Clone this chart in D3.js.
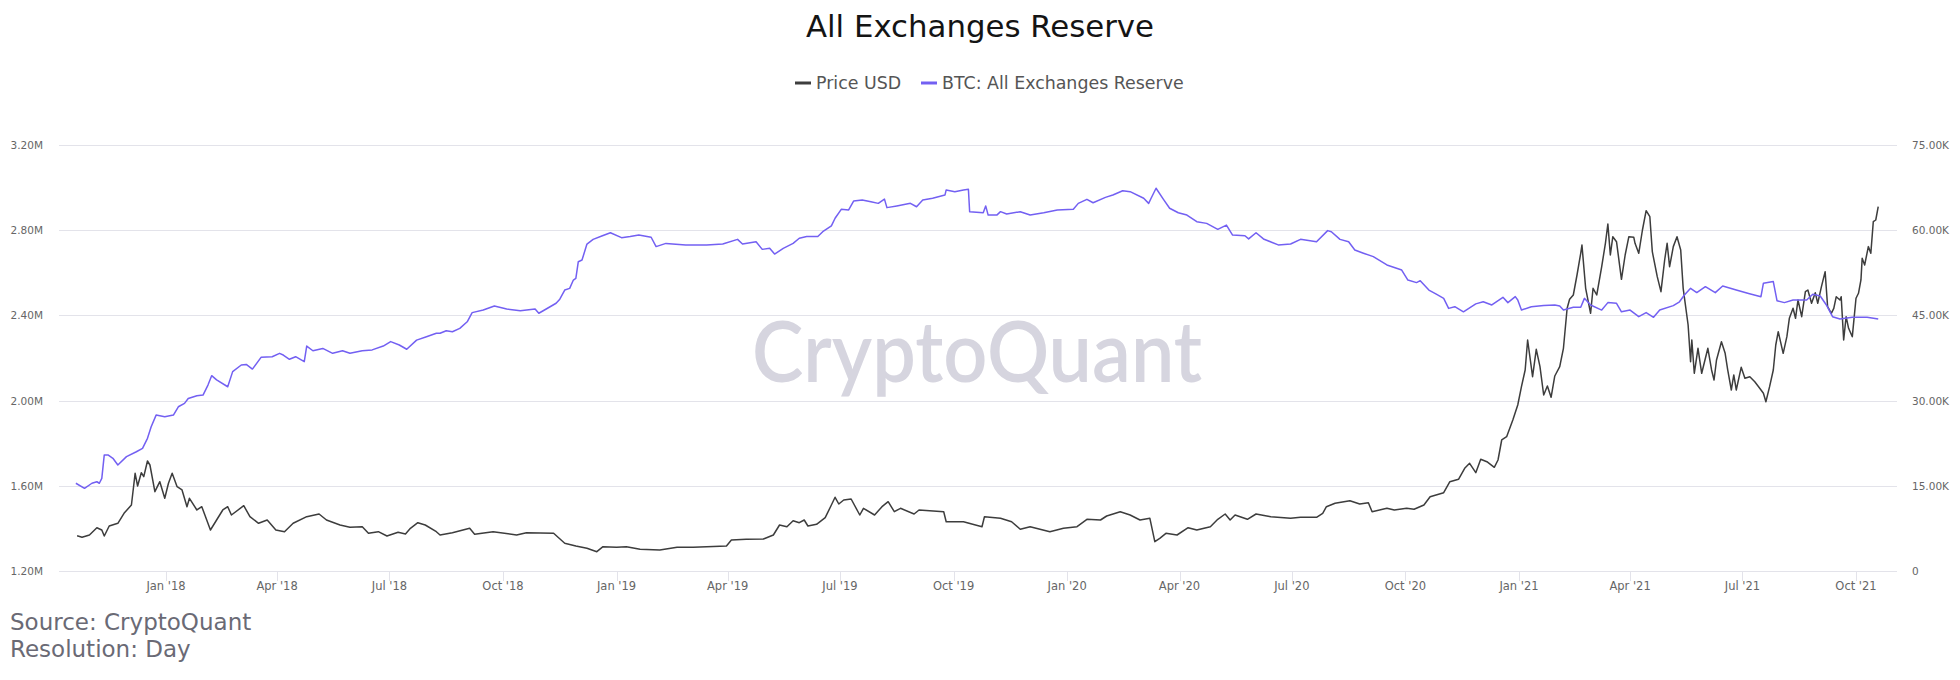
<!DOCTYPE html>
<html>
<head>
<meta charset="utf-8">
<script src="https://cdn.jsdelivr.net/npm/d3@7"></script>
<style>
  html, body { margin: 0; padding: 0; background: #fff; }
  svg { display: block; font-family: "DejaVu Sans", sans-serif; }
</style>
</head>
<body>
<div id="chartArea"></div>
<script>
// values
var priceDates = ['2017-10-21','2017-10-25','2017-10-31','2017-11-06','2017-11-10','2017-11-12','2017-11-16','2017-11-23','2017-11-28','2017-12-04',
  '2017-12-07','2017-12-09','2017-12-12','2017-12-14','2017-12-17','2017-12-19','2017-12-23','2017-12-27','2017-12-31','2018-01-03',
  '2018-01-06','2018-01-10','2018-01-14','2018-01-18','2018-01-20','2018-01-26','2018-01-30','2018-02-03','2018-02-06','2018-02-11',
  '2018-02-16','2018-02-20','2018-02-23','2018-03-05','2018-03-10','2018-03-17','2018-03-24','2018-03-31','2018-04-07','2018-04-14',
  '2018-04-25','2018-05-05','2018-05-11','2018-05-22','2018-05-30','2018-06-09','2018-06-14','2018-06-22','2018-06-29','2018-07-08',
  '2018-07-14','2018-07-18','2018-07-24','2018-07-30','2018-08-08','2018-08-11','2018-08-21','2018-09-04','2018-09-08','2018-09-23',
  '2018-10-12','2018-10-20','2018-11-11','2018-11-20','2018-11-29','2018-12-08','2018-12-16','2018-12-21','2019-01-01','2019-01-09',
  '2019-01-20','2019-02-05','2019-02-19','2019-03-04','2019-03-15','2019-03-31','2019-04-04','2019-04-16','2019-04-30','2019-05-08',
  '2019-05-13','2019-05-19','2019-05-24','2019-05-29','2019-06-02','2019-06-05','2019-06-12','2019-06-19','2019-06-24','2019-06-27',
  '2019-06-30','2019-07-04','2019-07-10','2019-07-17','2019-07-20','2019-07-29','2019-08-04','2019-08-09','2019-08-14','2019-08-19',
  '2019-08-30','2019-09-03','2019-09-23','2019-09-25','2019-10-09','2019-10-24','2019-10-26','2019-11-08','2019-11-17','2019-11-24',
  '2019-12-02','2019-12-18','2019-12-29','2020-01-09','2020-01-17','2020-01-28','2020-02-02','2020-02-13','2020-02-21','2020-02-29',
  '2020-03-08','2020-03-12','2020-03-16','2020-03-21','2020-03-30','2020-04-08','2020-04-15','2020-04-26','2020-05-02','2020-05-08',
  '2020-05-12','2020-05-16','2020-05-26','2020-06-02','2020-06-14','2020-06-30','2020-07-08','2020-07-21','2020-07-26','2020-07-29',
  '2020-08-05','2020-08-17','2020-08-25','2020-09-01','2020-09-04','2020-09-16','2020-09-22','2020-10-02','2020-10-08','2020-10-16',
  '2020-10-21','2020-11-01','2020-11-06','2020-11-13','2020-11-18','2020-11-22','2020-11-27','2020-12-01','2020-12-06','2020-12-12',
  '2020-12-15','2020-12-18','2020-12-22','2020-12-27','2020-12-31','2021-01-03','2021-01-06','2021-01-08','2021-01-12','2021-01-15',
  '2021-01-18','2021-01-21','2021-01-24','2021-01-27','2021-01-30','2021-02-03','2021-02-06','2021-02-09','2021-02-11','2021-02-14',
  '2021-02-17','2021-02-20','2021-02-21','2021-02-24','2021-02-28','2021-03-02','2021-03-05','2021-03-09','2021-03-12','2021-03-14',
  '2021-03-16','2021-03-18','2021-03-21','2021-03-25','2021-03-28','2021-03-31','2021-04-04','2021-04-05','2021-04-08','2021-04-11',
  '2021-04-14','2021-04-17','2021-04-19','2021-04-23','2021-04-26','2021-04-29','2021-05-01','2021-05-03','2021-05-06','2021-05-09',
  '2021-05-12','2021-05-14','2021-05-18','2021-05-20','2021-05-21','2021-05-23','2021-05-26','2021-05-29','2021-06-03','2021-06-06',
  '2021-06-08','2021-06-10','2021-06-14','2021-06-17','2021-06-19','2021-06-22','2021-06-24','2021-06-26','2021-06-30','2021-07-03',
  '2021-07-07','2021-07-11','2021-07-15','2021-07-18','2021-07-20','2021-07-23','2021-07-26','2021-07-28','2021-07-30','2021-08-03',
  '2021-08-06','2021-08-08','2021-08-11','2021-08-13','2021-08-15','2021-08-18','2021-08-21','2021-08-23','2021-08-26','2021-08-29',
  '2021-08-31','2021-09-03','2021-09-06','2021-09-08','2021-09-11','2021-09-13','2021-09-15','2021-09-18','2021-09-19','2021-09-21',
  '2021-09-23','2021-09-25','2021-09-28','2021-10-01','2021-10-03','2021-10-05','2021-10-06','2021-10-08','2021-10-11','2021-10-13',
  '2021-10-15','2021-10-17','2021-10-19'];
var priceUsd = [6215,5933,6338,7623,7218,6162,7923,8398,10159,11620,
  17201,14965,17306,16602,19367,18662,13962,15722,12800,15440,
  17201,14842,14261,11321,12800,10740,11321,8979,7218,8979,
  10740,11321,9859,11497,9560,8398,8979,7218,6919,8398,
  9560,10036,8979,8099,7694,7800,6637,6919,6162,6814,
  6514,7517,8504,8099,6919,6338,6744,7518,6461,6919,
  6338,6744,6637,4877,4402,3997,3398,4278,4173,4278,
  3820,3697,4173,4173,4278,4402,5458,5581,5634,6338,
  8099,7800,8856,8504,8979,7923,8222,9384,11620,12976,
  11796,12500,12676,9859,11039,9859,11321,12201,10440,11039,
  10036,10740,10440,8680,8680,7800,9560,9278,8680,7342,
  7800,6919,7518,7800,9102,8979,9683,10440,9859,8979,
  9278,5159,5757,6637,6338,7623,7218,7800,9102,10036,
  8979,9859,9102,10036,9560,9278,9454,9454,10159,11321,
  11920,12377,11796,12025,10440,11039,10740,11039,10863,11620,
  13081,13786,15722,16145,18082,18962,17306,19666,19244,18258,
  19543,23064,23645,26585,29226,32449,35388,40670,34211,39034,
  35969,30987,32571,30583,34332,35969,39209,46251,47836,48593,
  52114,55934,57396,49773,45371,49773,48593,53575,57695,61093,
  55635,58858,57977,51357,55635,58858,58752,57695,55934,60036,
  63434,62377,56215,51815,49174,54755,57695,53575,57108,58858,
  56516,49773,43311,36851,40670,34807,39209,34807,39209,35388,
  33627,37149,40371,38328,35512,31867,34508,31867,35863,33927,
  34211,33328,32166,31286,29807,32449,35388,39789,42131,38328,
  41251,44491,46251,44491,47712,44772,49174,49473,47131,48998,
  47131,50054,52695,46533,45371,46251,48294,47712,48294,40670,
  44772,42730,41251,48012,48893,51235,55054,53874,57108,55934,
  61497,61797,64140];

var reserveDates = ['2017-10-20','2017-10-27','2017-11-02','2017-11-06','2017-11-08','2017-11-10','2017-11-12','2017-11-15','2017-11-19','2017-11-23',
  '2017-11-30','2017-12-08','2017-12-13','2017-12-17','2017-12-20','2017-12-24','2017-12-31','2018-01-07','2018-01-11','2018-01-16',
  '2018-01-19','2018-01-26','2018-01-31','2018-02-04','2018-02-07','2018-02-11','2018-02-20','2018-02-24','2018-03-03','2018-03-07',
  '2018-03-12','2018-03-19','2018-03-28','2018-04-03','2018-04-06','2018-04-11','2018-04-16','2018-04-23','2018-04-25','2018-04-30',
  '2018-05-08','2018-05-16','2018-05-24','2018-05-30','2018-06-09','2018-06-17','2018-06-26','2018-07-02','2018-07-09','2018-07-15',
  '2018-07-23','2018-07-31','2018-08-08','2018-08-11','2018-08-16','2018-08-21','2018-08-27','2018-09-02','2018-09-06','2018-09-15',
  '2018-09-24','2018-10-04','2018-10-15','2018-10-27','2018-10-30','2018-11-05','2018-11-13','2018-11-16','2018-11-20','2018-11-24',
  '2018-11-27','2018-11-29','2018-12-01','2018-12-04','2018-12-08','2018-12-13','2018-12-20','2018-12-27','2019-01-05','2019-01-12',
  '2019-01-19','2019-01-29','2019-02-02','2019-02-10','2019-02-26','2019-03-15','2019-03-28','2019-04-09','2019-04-13','2019-04-24',
  '2019-04-29','2019-05-05','2019-05-09','2019-05-16','2019-05-24','2019-05-29','2019-06-04','2019-06-13','2019-06-17','2019-06-24',
  '2019-06-27','2019-07-02','2019-07-08','2019-07-12','2019-07-19','2019-07-26','2019-08-01','2019-08-06','2019-08-08','2019-08-16',
  '2019-08-27','2019-09-01','2019-09-06','2019-09-14','2019-09-24','2019-09-25','2019-10-02','2019-10-09','2019-10-13','2019-10-14',
  '2019-10-25','2019-10-27','2019-10-29','2019-11-05','2019-11-08','2019-11-13','2019-11-24','2019-12-02','2019-12-13','2019-12-24',
  '2020-01-06','2020-01-10','2020-01-17','2020-01-22','2020-02-01','2020-02-07','2020-02-15','2020-02-21','2020-03-03','2020-03-07',
  '2020-03-09','2020-03-13','2020-03-19','2020-03-24','2020-03-31','2020-04-07','2020-04-15','2020-04-23','2020-05-02','2020-05-09',
  '2020-05-14','2020-05-24','2020-05-27','2020-06-02','2020-06-08','2020-06-20','2020-06-30','2020-07-08','2020-07-21','2020-07-30',
  '2020-08-02','2020-08-09','2020-08-16','2020-08-21','2020-08-28','2020-09-05','2020-09-16','2020-09-28','2020-10-03','2020-10-10',
  '2020-10-13','2020-10-20','2020-10-26','2020-11-01','2020-11-05','2020-11-10','2020-11-17','2020-11-27','2020-12-03','2020-12-10',
  '2020-12-19','2020-12-23','2020-12-29','2020-12-31','2021-01-03','2021-01-11','2021-01-21','2021-01-30','2021-02-03','2021-02-06',
  '2021-02-14','2021-02-20','2021-02-23','2021-02-28','2021-03-09','2021-03-14','2021-03-21','2021-03-25','2021-04-01','2021-04-08',
  '2021-04-14','2021-04-20','2021-04-25','2021-05-06','2021-05-11','2021-05-15','2021-05-20','2021-05-25','2021-06-01','2021-06-09',
  '2021-06-15','2021-06-26','2021-07-06','2021-07-16','2021-07-18','2021-07-26','2021-07-29','2021-08-04','2021-08-11','2021-08-22',
  '2021-08-27','2021-09-02','2021-09-07','2021-09-12','2021-09-18','2021-09-28','2021-10-10','2021-10-19'];
var reserveBtc = [1612000,1588000,1612000,1619000,1612000,1635000,1745000,1745000,1729000,1698000,
  1737000,1760000,1776000,1823000,1877000,1932000,1924000,1932000,1971000,1987000,
  2010000,2023000,2026000,2073000,2117000,2097000,2065000,2136000,2167000,2170000,
  2148000,2203000,2206000,2222000,2214000,2194000,2206000,2183000,2256000,2234000,
  2245000,2222000,2234000,2222000,2234000,2238000,2256000,2277000,2261000,2241000,
  2284000,2300000,2316000,2316000,2328000,2323000,2339000,2370000,2413000,2425000,
  2444000,2430000,2422000,2430000,2410000,2430000,2457000,2476000,2519000,2527000,
  2566000,2574000,2652000,2660000,2735000,2757000,2773000,2788000,2765000,2770000,
  2777000,2767000,2723000,2738000,2731000,2731000,2735000,2757000,2735000,2746000,
  2710000,2715000,2688000,2715000,2738000,2762000,2770000,2770000,2793000,2820000,
  2856000,2898000,2895000,2937000,2942000,2934000,2926000,2946000,2906000,2914000,
  2926000,2910000,2942000,2950000,2965000,2989000,2981000,2989000,2992000,2887000,
  2882000,2914000,2871000,2871000,2887000,2876000,2887000,2871000,2882000,2895000,
  2898000,2926000,2945000,2929000,2954000,2965000,2985000,2981000,2950000,2926000,
  2950000,2997000,2945000,2903000,2882000,2871000,2840000,2832000,2804000,2824000,
  2777000,2774000,2759000,2788000,2759000,2731000,2735000,2757000,2746000,2798000,
  2793000,2757000,2746000,2707000,2692000,2676000,2637000,2613000,2566000,2554000,
  2563000,2519000,2500000,2480000,2433000,2441000,2417000,2454000,2464000,2449000,
  2485000,2460000,2488000,2472000,2425000,2441000,2446000,2449000,2444000,2425000,
  2438000,2438000,2480000,2449000,2425000,2460000,2457000,2417000,2425000,2394000,
  2413000,2391000,2425000,2446000,2464000,2496000,2527000,2507000,2535000,2507000,
  2538000,2519000,2503000,2488000,2551000,2559000,2469000,2460000,2472000,2472000,
  2499000,2491000,2449000,2394000,2383000,2391000,2391000,2383000];

var leftTicks = [1200000, 1600000, 2000000, 2400000, 2800000, 3200000];
var rightTicks = [0, 15000, 30000, 45000, 60000, 75000];
var seriesNames = ['Price USD', 'BTC: All Exchanges Reserve'];
var seriesColors = ['#3d3d3d', '#7360f2'];

var width = 1960, height = 680;
var margin = {top: 145, right: 63, bottom: 109, left: 59};
var parse = d3.utcParse('%Y-%m-%d');

var price = priceDates.map(function(d, i) { return {date: parse(d), value: priceUsd[i]}; });
var reserve = reserveDates.map(function(d, i) { return {date: parse(d), value: reserveBtc[i]}; });

var xscale = d3.scaleUtc()
    .domain([new Date(Date.UTC(2017, 9, 6, 8)), new Date(Date.UTC(2021, 10, 3, 5))])
    .range([margin.left, width - margin.right]);
var yleft = d3.scaleLinear().domain([1200000, 3200000]).range([height - margin.bottom, margin.top]);
var yright = d3.scaleLinear().domain([0, 75000]).range([height - margin.bottom, margin.top]);

var svg = d3.select('#chartArea').append('svg')
    .attr('width', width)
    .attr('height', height);

svg.append('rect').attr('width', width).attr('height', height).attr('fill', '#ffffff');

// title
svg.append('text')
    .attr('x', width / 2).attr('y', 37)
    .attr('text-anchor', 'middle')
    .style('font-size', '30.8px')
    .style('fill', '#141414')
    .text('All Exchanges Reserve');

// legend
var legend = svg.append('g');
var legendX = [795, 921];
seriesNames.forEach(function(name, i) {
    legend.append('line')
        .attr('x1', legendX[i]).attr('x2', legendX[i] + 16)
        .attr('y1', 83).attr('y2', 83)
        .attr('stroke', seriesColors[i]).attr('stroke-width', 3);
    legend.append('text')
        .attr('x', legendX[i] + 21).attr('y', 88.5)
        .style('font-size', '17.4px')
        .style('fill', '#555')
        .text(name);
});

// grid + left axis
var gridG = svg.append('g');
gridG.selectAll('line').data(leftTicks).enter().append('line')
    .attr('x1', margin.left).attr('x2', width - margin.right)
    .attr('y1', function(d) { return Math.round(yleft(d)) + 0.5; })
    .attr('y2', function(d) { return Math.round(yleft(d)) + 0.5; })
    .attr('stroke', '#e3e3ea').attr('stroke-width', 1);

svg.append('g').selectAll('text').data(leftTicks).enter().append('text')
    .attr('x', 43).attr('y', function(d) { return yleft(d); })
    .attr('dy', '0.38em')
    .attr('text-anchor', 'end')
    .style('font-size', '10.5px').style('fill', '#666')
    .text(function(d) { return (d / 1e6).toFixed(2) + 'M'; });

svg.append('g').selectAll('text').data(rightTicks).enter().append('text')
    .attr('x', 1912).attr('y', function(d) { return yright(d); })
    .attr('dy', '0.38em')
    .attr('text-anchor', 'start')
    .style('font-size', '10.5px').style('fill', '#666')
    .text(function(d) { return d === 0 ? '0' : (d / 1000).toFixed(2) + 'K'; });

// x axis ticks every 3 months
var xticks = xscale.ticks(d3.utcMonth.every(3));
var fmt = d3.utcFormat("%b '%y");
var xg = svg.append('g');
xg.selectAll('line').data(xticks).enter().append('line')
    .attr('x1', function(d) { return Math.round(xscale(d)) + 0.5; })
    .attr('x2', function(d) { return Math.round(xscale(d)) + 0.5; })
    .attr('y1', height - margin.bottom).attr('y2', height - margin.bottom + 10)
    .attr('stroke', '#e3e3ea');
xg.selectAll('text').data(xticks).enter().append('text')
    .attr('x', function(d) { return xscale(d); })
    .attr('y', 590)
    .attr('text-anchor', 'middle')
    .style('font-size', '11.5px').style('fill', '#666')
    .text(fmt);

// watermark
svg.append('text')
    .attr('x', 752).attr('y', 382)
    .attr('textLength', 450).attr('lengthAdjust', 'spacingAndGlyphs')
    .style('font-family', 'Lato, sans-serif')
    .style('font-size', '84px')
    .style('font-weight', '600')
    .style('fill', '#d6d5df')
    .text('CryptoQuant');

// series
var priceLine = d3.line()
    .x(function(d) { return xscale(d.date); })
    .y(function(d) { return yright(d.value); });
var reserveLine = d3.line()
    .x(function(d) { return xscale(d.date); })
    .y(function(d) { return yleft(d.value); });

svg.append('path').datum(price)
    .attr('d', priceLine)
    .attr('fill', 'none')
    .attr('stroke', seriesColors[0])
    .attr('stroke-width', 1.5)
    .attr('stroke-linejoin', 'round');

svg.append('path').datum(reserve)
    .attr('d', reserveLine)
    .attr('fill', 'none')
    .attr('stroke', seriesColors[1])
    .attr('stroke-width', 1.5)
    .attr('stroke-linejoin', 'round');

// source caption
svg.append('text')
    .attr('x', 10).attr('y', 630)
    .style('font-size', '23px').style('fill', '#6a6a75')
    .text('Source: CryptoQuant');
svg.append('text')
    .attr('x', 10).attr('y', 657)
    .style('font-size', '23px').style('fill', '#6a6a75')
    .text('Resolution: Day');
</script>
</body>
</html>
